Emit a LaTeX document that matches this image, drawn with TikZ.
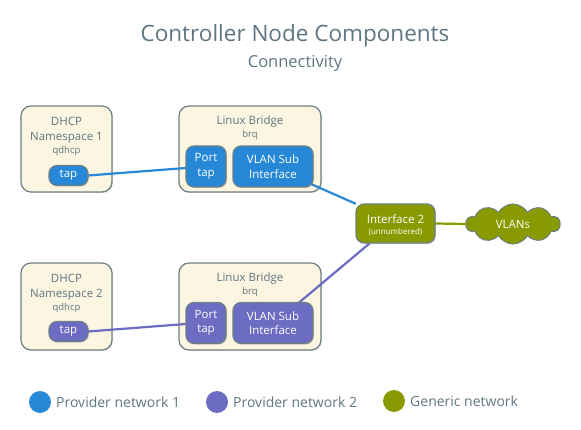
\documentclass[tikz,border=0pt]{standalone}
\usepackage{fontspec}
\setmainfont{Open Sans}
\usetikzlibrary{shapes.symbols,shadows}
\definecolor{pblue}{HTML}{2688D6}
\definecolor{ppurple}{HTML}{6C6CC2}
\definecolor{olive}{HTML}{889A00}
\definecolor{cream}{HTML}{FCF5E2}
\definecolor{bordergray}{HTML}{6F8082}
\definecolor{txtgray}{HTML}{5E7680}
\tikzset{
  outerbox/.style={draw=bordergray, line width=1.2pt, fill=cream, rounded corners=10pt, drop shadow={opacity=0.25, shadow xshift=1pt, shadow yshift=-1pt}},
  innerbox/.style={draw=bordergray, line width=1.2pt, rounded corners=8pt, text=white, align=center, font=\fontsize{11.5}{14.5}\selectfont, inner sep=0pt, drop shadow={opacity=0.3, shadow xshift=1pt, shadow yshift=-1pt}},
  boxtext/.style={text=txtgray, align=center, font=\fontsize{11.5}{15}\selectfont},
  smalltext/.style={text=txtgray, font=\fontsize{9.5}{11}\selectfont},
  conn/.style={line width=2.2pt},
  legtext/.style={text=txtgray, anchor=west, font=\fontsize{14}{16}\selectfont, inner sep=0pt},
  cloudbox/.style={cloud, cloud puffs=10, cloud puff arc=120, aspect=2.4, draw=bordergray, line width=1pt, fill=olive, minimum width=94pt, minimum height=40pt, inner sep=0pt, text=white, font=\fontsize{11.5}{13}\selectfont},
}
\begin{document}
\begin{tikzpicture}[x=1pt,y=-1pt]
\useasboundingbox (0,0) rectangle (581,430);
% title
\node[text=txtgray, font=\fontsize{22.5}{26}\selectfont] (title) at (295,36) {Controller Node Components};
\node[text=txtgray, font=\fontsize{16.5}{19}\selectfont] (subtitle) at (295,63) {Connectivity};

% outer boxes
\path[outerbox] (21,106) rectangle (112,192);
\node[boxtext] (dh1) at (66.5,130) {DHCP\\Namespace 1};
\node[smalltext] (q1) at (66.5,151) {qdhcp};
\path[outerbox] (179,106) rectangle (321,192);
\node[boxtext] (lb1) at (250,122) {Linux Bridge};
\node[smalltext] (b1) at (250,135) {brq};

\path[outerbox] (21,263) rectangle (112,350);
\node[boxtext] (dh2) at (66.5,287) {DHCP\\Namespace 2};
\node[smalltext] (q2) at (66.5,308) {qdhcp};
\path[outerbox] (179,263) rectangle (321,350);
\node[boxtext] (lb2) at (250,279) {Linux Bridge};
\node[smalltext] (b2) at (250,292) {brq};

% anchor nodes (invisible) for connectors
\path (68.5,175.5) node[minimum width=39pt, minimum height=20pt, inner sep=0pt] (tap1) {}
      (206,166.5) node[minimum width=40pt, minimum height=41pt, inner sep=0pt] (port1) {}
      (273,166.5) node[minimum width=80pt, minimum height=41pt, inner sep=0pt] (vlan1) {}
      (68.5,331.5) node[minimum width=39pt, minimum height=20pt, inner sep=0pt] (tap2) {}
      (206,323) node[minimum width=40pt, minimum height=41pt, inner sep=0pt] (port2) {}
      (273,323) node[minimum width=80pt, minimum height=41pt, inner sep=0pt] (vlan2) {}
      (395.5,223.5) node[minimum width=79pt, minimum height=39pt, inner sep=0pt] (if2) {}
      (513,224) node[minimum width=94pt, minimum height=40pt, inner sep=0pt] (vlans) {};

% connectors
\draw[conn, pblue] (tap1.east) -- (port1.west |- 0,168);
\draw[conn, pblue] ([xshift=-4pt,yshift=4pt]vlan1.south east) -- (if2.north west);
\draw[conn, ppurple] (tap2.east) -- (port2.west |- 0,324);
\draw[conn, ppurple] ([xshift=-15pt,yshift=-1pt]vlan2.north east) -- ([xshift=14pt]if2.south west);
\draw[conn, olive] (if2.east) -- (vlans.west);

% visible nodes on top of connectors
\node[innerbox, fill=pblue, minimum width=39pt, minimum height=20pt] (tap1v) at (tap1) {tap};
\node[innerbox, fill=pblue, minimum width=40pt, minimum height=41pt] (port1v) at (port1) {Port\\tap};
\node[innerbox, fill=pblue, minimum width=80pt, minimum height=41pt] (vlan1v) at (vlan1) {VLAN Sub\\Interface};
\node[innerbox, fill=ppurple, minimum width=39pt, minimum height=20pt] (tap2v) at (tap2) {tap};
\node[innerbox, fill=ppurple, minimum width=40pt, minimum height=41pt] (port2v) at (port2) {Port\\tap};
\node[innerbox, fill=ppurple, minimum width=80pt, minimum height=41pt] (vlan2v) at (vlan2) {VLAN Sub\\Interface};
\node[innerbox, fill=olive, minimum width=79pt, minimum height=39pt] (if2v) at (if2) {};
\node[text=white, font=\fontsize{11.5}{13}\selectfont] (if2a) at (395.5,219) {Interface 2};
\node[text=white, font=\fontsize{8}{9}\selectfont] (if2b) at (395.5,232) {(unnumbered)};
\node[cloudbox] (vlansv) at (vlans) {VLANs};

% legend
\fill[pblue] (40,402) circle (11pt) coordinate (l1);
\node[legtext] (lt1) at (56,402) {Provider network 1};
\fill[ppurple] (217,402) circle (11pt) coordinate (l2);
\node[legtext] (lt2) at (233,402) {Provider network 2};
\fill[olive] (394,401) circle (11pt) coordinate (l3);
\node[legtext] (lt3) at (410,401) {Generic network};
\end{tikzpicture}
\end{document}
